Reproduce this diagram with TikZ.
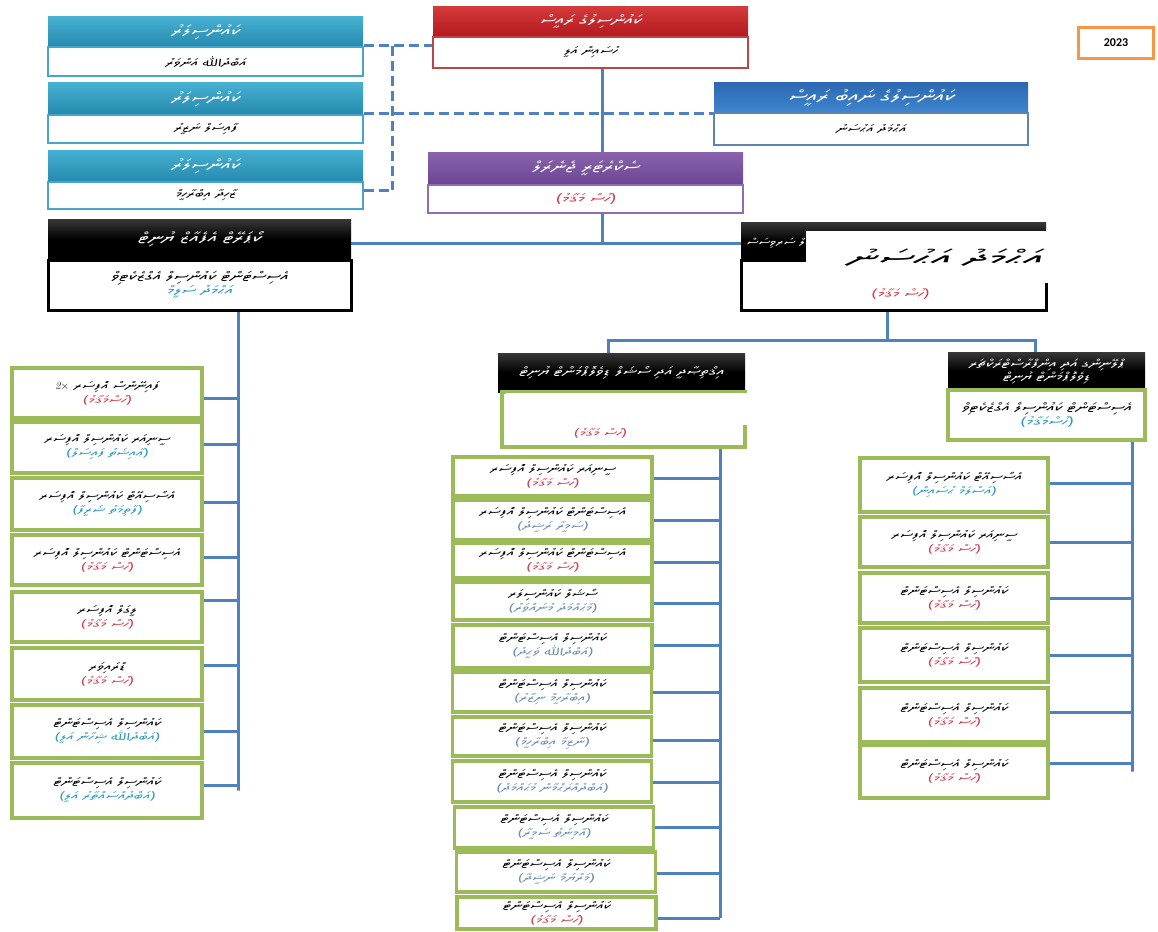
\documentclass[tikz,border=0pt]{standalone}
\usepackage{fontspec}
\IfFontExistsTF{Noto Sans Thaana}{\def\thaananame{Noto Sans Thaana}}{\IfFontExistsTF{FreeSerif}{\def\thaananame{FreeSerif}}{\def\thaananame{DejaVu Sans}}}
\newfontfamily\dvA[Script=Thaana,FakeSlant=0.18,FakeStretch=1.5]{\thaananame}
\newfontfamily\dvB[Script=Thaana,FakeSlant=0.18,FakeStretch=2.2]{\thaananame}
\newfontfamily\carl{Carlito}
\TeXXeTstate=1
\newcommand\TT[1]{{\dvA\beginR #1\endR}}
\newcommand\TB[1]{{\dvB\beginR #1\endR}}
\newcommand\TwoX{{\normalfont\itshape 2}$\times$}
\pgfdeclarelayer{bg}
\pgfsetlayers{bg,main}
\definecolor{lnc}{HTML}{4F81BD}
\definecolor{grn}{HTML}{9BBB59}
\definecolor{cyT}{HTML}{45B0D2}
\definecolor{cyB}{HTML}{2589AE}
\definecolor{cyL}{HTML}{46A6C8}
\definecolor{reT}{HTML}{D33A3A}
\definecolor{reB}{HTML}{B3191E}
\definecolor{reL}{HTML}{BF4545}
\definecolor{blT}{HTML}{2C69B2}
\definecolor{blB}{HTML}{3F86D0}
\definecolor{blL}{HTML}{5B84B1}
\definecolor{puT}{HTML}{8A63AE}
\definecolor{puB}{HTML}{6B4592}
\definecolor{puL}{HTML}{8E6DB0}
\definecolor{org}{HTML}{F79646}
\definecolor{rc}{HTML}{D2404F}
\definecolor{tl}{HTML}{2E9CC0}
\definecolor{gbl}{HTML}{6C8EB5}
\begin{document}
\begin{tikzpicture}[x=1pt,y=-1pt,
 hd/.style={rectangle,inner sep=0pt,text=white,font=\fontsize{14.5}{17}\selectfont,align=center},
 bd/.style={rectangle,fill=white,inner sep=0pt,line width=2.5pt,font=\fontsize{11}{14}\selectfont,align=center},
 blk/.style={hd,top color=black!78,bottom color=black,middle color=black},
 gb/.style={rectangle,draw=grn,fill=white,line width=3.5pt,inner sep=0pt,align=center,font=\fontsize{11}{14}\selectfont},
 ln/.style={draw=lnc,line width=3pt},
 dl/.style={draw=lnc,line width=3pt,dash pattern=on 10pt off 5pt},
]
\useasboundingbox (0,0) rectangle (1158,931);
\begin{pgfonlayer}{bg}
\fill[white] (0,0) rectangle (1158,931);
\end{pgfonlayer}

% councillors
\node[hd,top color=cyT,bottom color=cyB,minimum width=315pt,minimum height=30pt] (c1h) at (205.5,32) {\TT{ކައުންސިލަރު}};
\node[bd,draw=cyL,minimum width=315pt,minimum height=29pt] (c1b) at (205.5,61.5) {\TT{އަބްދުﷲ އަންވަރު}};
\node[hd,top color=cyT,bottom color=cyB,minimum width=315pt,minimum height=32pt] (c2h) at (205.5,99) {\TT{ކައުންސިލަރު}};
\node[bd,draw=cyL,minimum width=315pt,minimum height=28pt] (c2b) at (205.5,129) {\TT{ފާއިސަލް ނަޒީރު}};
\node[hd,top color=cyT,bottom color=cyB,minimum width=315pt,minimum height=32pt] (c3h) at (205.5,166) {\TT{ކައުންސިލަރު}};
\node[bd,draw=cyL,minimum width=315pt,minimum height=27pt] (c3b) at (205.5,195.5) {\TT{ޒާހިދާ އިބްރާހީމް}};

% president
\node[hd,top color=reT,bottom color=reB,minimum width=315pt,minimum height=30pt,font=\fontsize{13.5}{16}\selectfont] (rh) at (590.5,22) {\TT{ކައުންސިލުގެ ރައީސް}};
\node[bd,draw=reL,minimum width=315pt,minimum height=31pt] (rb) at (590.5,52.5) {\TT{ހުސައިން އަލީ}};
% vice president
\node[hd,top color=blT,bottom color=blB,minimum width=314pt,minimum height=30pt,font=\fontsize{16}{18}\selectfont] (bh) at (871,98) {\TT{ކައުންސިލުގެ ނައިބު ރައީސް}};
\node[bd,draw=blL,minimum width=314pt,minimum height=32pt] (bb) at (871,129) {\TT{އަޙްމަދު އަޙުސަނު}};
% secretary general
\node[hd,top color=puT,bottom color=puB,minimum width=315pt,minimum height=33pt] (ph) at (585.5,168.5) {\TT{ސެކްރެޓަރީ ޖެނެރަލް}};
\node[bd,draw=puL,minimum width=315pt,minimum height=28pt,text=rc,font=\fontsize{12.5}{14}\selectfont] (pb) at (585.5,199) {\TT{(ހުސް މަޤާމު)}};
% year
\node[draw=org,line width=2.5pt,fill=white,minimum width=75pt,minimum height=31pt,inner sep=0pt,font=\carl\bfseries\fontsize{12}{14}\selectfont] (yr) at (1116,43) {2023};

% left black unit
\node[blk,minimum width=303pt,minimum height=41pt] (lkh) at (199.5,239.5) {\TT{ކޯޕަރޭޓް އެފެއާޒް ޔުނިޓް}};
\node[bd,draw=black,line width=3pt,minimum width=303pt,minimum height=50pt,font=\fontsize{12.5}{14}\selectfont] (lkb) at (199.5,285) {\TT{އެސިސްޓަންޓް ކައުންސިލް އެގްޒެކެޓިވް}\\{\color{tl}\TT{އަޙްމަދު ސަލީމް}}};

% right black unit
\node[blk,minimum width=305pt,minimum height=38pt] (rkh) at (893.5,241) {};
\node[bd,draw=black,line width=3pt,minimum width=305pt,minimum height=50pt] (rkb) at (893.5,285) {};
\node[text=white,anchor=west,inner sep=0pt,font=\fontsize{10}{12}\selectfont] (rkf) at (746,243) {\TT{ސޯޝަލް ސަރވިސަސް}};
\node[text=rc,inner sep=0pt,font=\fontsize{12}{14}\selectfont] (rkt) at (900,294) {\TT{(ހުސް މަޤާމު)}};
\node[fill=white,inner sep=0pt,minimum width=246pt,minimum height=52pt] (ov1) at (929,257) {};
\node[inner sep=0pt,font=\fontsize{21}{24}\selectfont] (ovt) at (945,258) {\TB{އަޙްމަދު އަޙުސަނު}};

% middle black unit
\node[blk,minimum width=247pt,minimum height=39pt,font=\fontsize{12}{14}\selectfont] (mkh) at (621.5,372.5) {\TT{އިޤްތިޞާދީ އަދި ސޯޝަލް ޑިވެލޮޕްމަންޓް ޔުނިޓް}};
\node[gb,minimum width=243pt,minimum height=55pt] (mkb) at (623.5,419.5) {};
\node[text=rc,inner sep=0pt,font=\fontsize{11}{13}\selectfont] (mkt) at (600,433) {\TT{(ހުސް މަޤާމު)}};
\node[fill=white,inner sep=0pt,minimum width=242pt,minimum height=32pt] (ov2) at (627,409) {};

% right small black unit
\node[blk,minimum width=197pt,minimum height=38pt,font=\fontsize{11.5}{13}\selectfont] (skh) at (1046.5,371) {\TT{ޕްލޭނިންގ އަދި އިންފްރާސްޓްރަކްޗަރ}\\\TT{ޑިވެލޮޕްމަންޓް ޔުނިޓް}};
\node[gb,minimum width=197pt,minimum height=50pt,font=\fontsize{12}{14.5}\selectfont] (skb) at (1046.5,415) {\TT{އެސިސްޓަންޓް ކައުންސިލް އެގްޒެކެޓިވް}\\{\color{tl}\TT{(ހުސްމަޤާމު)}}};

% spine coordinates
\coordinate (sp) at (602,0);
\coordinate (bus) at (0,243);
\coordinate (lsp) at (238,0);
\coordinate (rsp) at (887,0);
\coordinate (tbus) at (0,340);
\coordinate (mtp) at (608,0);
\coordinate (stp) at (1035,0);
\coordinate (msp) at (720,0);
\coordinate (ssp) at (1132,0);
\coordinate (dj) at (392,0);

% left column
\foreach \i/\ya/\yb/\cy/\t/\s/\c in {
1/368/418/398/{ފައިނޭންސް އޮފިސަރ \beginL\TwoX\endL}/{(ހުސްމަޤާމު)}/rc,
2/422/473/444/{ސީނިއަރ ކައުންސިލް އޮފިސަރ}/{(ޢާއިޝަތު ފައިސަލް)}/tl,
3/478/530/502/{އެސޯސިއޭޓް ކައުންސިލް އޮފިސަރ}/{(ފާތިމަތު ޝަރީފާ)}/tl,
4/535/585/557/{އެސިސްޓަންޓް ކައުންސިލް އޮފިސަރ}/{(ހުސް މަޤާމު)}/rc,
5/592/642/600/{ލީގަލް އޮފިސަރ}/{(ހުސް މަޤާމު)}/rc,
6/648/700/665/{ޑްރައިވަރ}/{(ހުސް މަޤާމު)}/rc,
7/705/758/731/{ކައުންސިލް އެސިސްޓަންޓް}/{(އަބްދުﷲ ޝިހާން އަލީ)}/tl,
8/763/818/785/{ކައުންސިލް އެސިސްޓަންޓް}/{(އަބްދުއްސައްތާރު އަލީ)}/tl}{
\node[gb,minimum width=190pt,minimum height={(\yb-\ya)*1pt}] (lb\i) at (107,{(\ya+\yb)/2}) {\TT{\t}\\{\color{\c}\TT{\s}}};
\begin{pgfonlayer}{bg}
\draw[ln] (lb\i.east |- 0,\cy) -- (lsp |- 0,\cy);
\end{pgfonlayer}
}

% middle column
\foreach \i/\cx/\ya/\yb/\cy/\t/\s/\c in {
1/552.5/457/496/478/{ސީނިއަރ ކައުންސިލް އޮފިސަރ}/{(ހުސް މަޤާމު)}/rc,
2/552.5/500/540/520/{އެސިސްޓަންޓް ކައުންސިލް އޮފިސަރ}/{(ސަމީރާ ރަޝީދު)}/gbl,
3/552.5/543/578/562/{އެސިސްޓަންޓް ކައުންސިލް އޮފިސަރ}/{(ހުސް މަޤާމު)}/rc,
4/552.5/582/620/603/{ސޯޝަލް ކައުންސިލަރ}/{(މުޙައްމަދު މުނައްވަރު)}/gbl,
5/552.5/625/668/645/{ކައުންސިލް އެސިސްޓަންޓް}/{(އަބްދުﷲ ވަޙީދު)}/gbl,
6/552/672/712/692/{ކައުންސިލް އެސިސްޓަންޓް}/{(އިބްރާހީމް ނިޒާރު)}/gbl,
7/552/717/756/740/{ކައުންސިލް އެސިސްޓަންޓް}/{(ނާޒިމާ އިބްރާހީމް)}/gbl,
8/552/761/802/782/{ކައުންސިލް އެސިސްޓަންޓް}/{(އަބްދުއްރަޙްމާން މުޙައްމަދު)}/gbl,
9/554/807/848/827/{ކައުންސިލް އެސިސްޓަންޓް}/{(އާމިނަތު ސަމީރާ)}/gbl,
10/556/852/892/873/{ކައުންސިލް އެސިސްޓަންޓް}/{(މަރްޔަމް ނަޝީދާ)}/gbl,
11/556.5/897/929/918/{ކައުންސިލް އެސިސްޓަންޓް}/{(ހުސް މަޤާމު)}/rc}{
\node[gb,minimum width=199pt,minimum height={(\yb-\ya)*1pt}] (mb\i) at (\cx,{(\ya+\yb)/2}) {\TT{\t}\\{\color{\c}\TT{\s}}};
\begin{pgfonlayer}{bg}
\draw[ln] (mb\i.east |- 0,\cy) -- (msp |- 0,\cy);
\end{pgfonlayer}
}

% right column
\foreach \i/\ya/\yb/\cy/\t/\s/\c in {
1/458/512/483/{އެސޯސިއޭޓް ކައުންސިލް އޮފިސަރ}/{(އަސްލަމް ޙުސައިން)}/tl,
2/517/567/542/{ސީނިއަރ ކައުންސިލް އޮފިސަރ}/{(ހުސް މަޤާމު)}/rc,
3/573/623/598/{ކައުންސިލް އެސިސްޓަންޓް}/{(ހުސް މަޤާމު)}/rc,
4/628/682/655/{ކައުންސިލް އެސިސްޓަންޓް}/{(ހުސް މަޤާމު)}/rc,
5/688/742/712/{ކައުންސިލް އެސިސްޓަންޓް}/{(ހުސް މަޤާމު)}/rc,
6/745/798/763/{ކައުންސިލް އެސިސްޓަންޓް}/{(ހުސް މަޤާމު)}/rc}{
\node[gb,minimum width=188pt,minimum height={(\yb-\ya)*1pt}] (rcb\i) at (954,{(\ya+\yb)/2}) {\TT{\t}\\{\color{\c}\TT{\s}}};
\begin{pgfonlayer}{bg}
\draw[ln] (rcb\i.east |- 0,\cy) -- (ssp |- 0,\cy);
\end{pgfonlayer}
}

\begin{pgfonlayer}{bg}
\draw[ln] (rb.south -| sp) -- (ph.north -| sp);
\draw[ln] (pb.south -| sp) -- (sp |- bus);
\draw[ln] (lkh.east |- bus) -- (rkh.west |- bus);
\draw[ln] (lkb.south -| lsp) -- (lsp |- lb8.east) -- ++(0,-5.5);
\draw[ln] (rkb.south -| rsp) -- (rsp |- tbus);
\draw[ln] (mkh.north -| mtp) -- (mtp |- tbus) -- (stp |- tbus) -- (skh.north -| stp);
\draw[ln] (mkb.south -| msp) -- (msp |- mb11.east) -- ++(0,5);
\draw[ln] (skb.south -| ssp) -- (ssp |- rcb6.east) -- ++(0,-8.5);
\draw[dl] (c1b.north east) -- (rb.west |- c1b.north east);
\draw[dl] (c2b.north east) -- (bb.west |- c2b.north east);
\draw[dl] (dj |- c1b.north east) -- (dj |- 0,190);
\draw[dl] (c3b.east |- 0,190) -- (dj |- 0,190);
\end{pgfonlayer}
\end{tikzpicture}
\end{document}
